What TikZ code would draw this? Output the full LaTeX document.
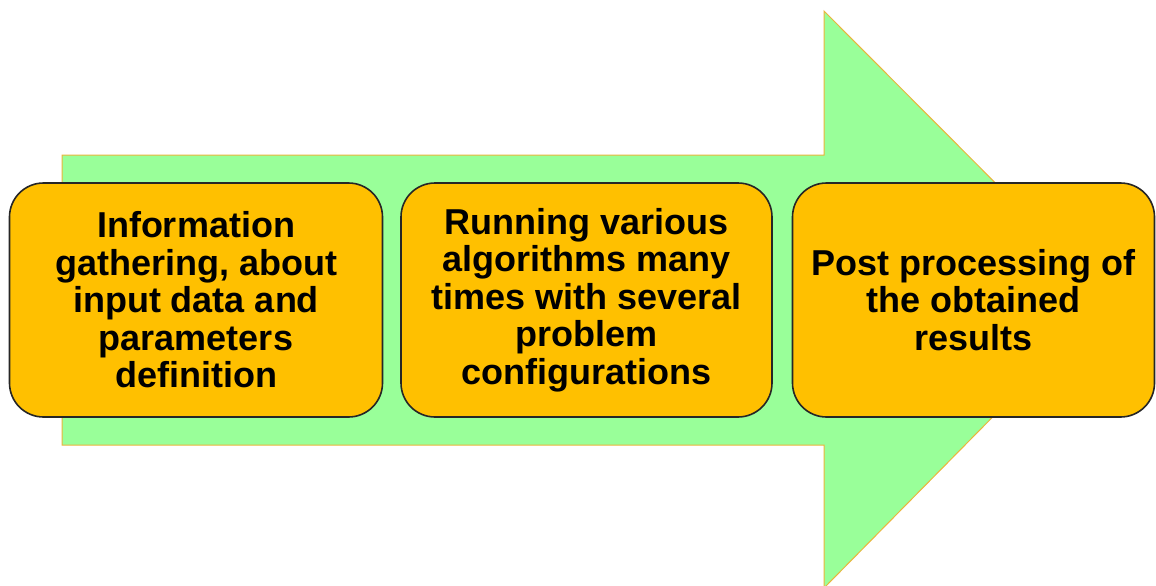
\documentclass[tikz,border=0pt]{standalone}
\usepackage{fontspec}
\setmainfont{Liberation Sans}
\begin{document}
\begin{tikzpicture}[x=1pt,y=-1pt,
  stepbox/.style={draw=black!85, line width=1.6pt, fill=boxfill, rounded corners=34pt,
    minimum height=234pt, align=center, inner sep=0pt,
    font=\fontsize{36}{37.5}\selectfont\bfseries},
  arrowshape/.style={fill=arrowgreen, draw=arrowedge, line width=1pt}]
\definecolor{boxfill}{HTML}{FFC000}
\definecolor{arrowgreen}{HTML}{99FF99}
\definecolor{arrowedge}{HTML}{EBB43C}
\useasboundingbox (0,0) rectangle (1156,586);
\fill[white] (0,0) rectangle (1156,586);
% big arrow
\draw[arrowshape] (62,155) -- (824,155) -- (824,11) -- (1110,298) -- (824,588) -- (824,445) -- (62,445) -- cycle;
% boxes
\node[stepbox, minimum width=373pt] (s1) at (196,300) {Information\\gathering, about\\input data and\\parameters\\definition};
\node[stepbox, minimum width=371pt] (s2) at (586.5,300) {Running various\\algorithms many\\times with several\\problem\\configurations};
\node[stepbox, minimum width=362pt] (s3) at (973.5,300) {Post processing of\\the obtained\\results};
\end{tikzpicture}
\end{document}
